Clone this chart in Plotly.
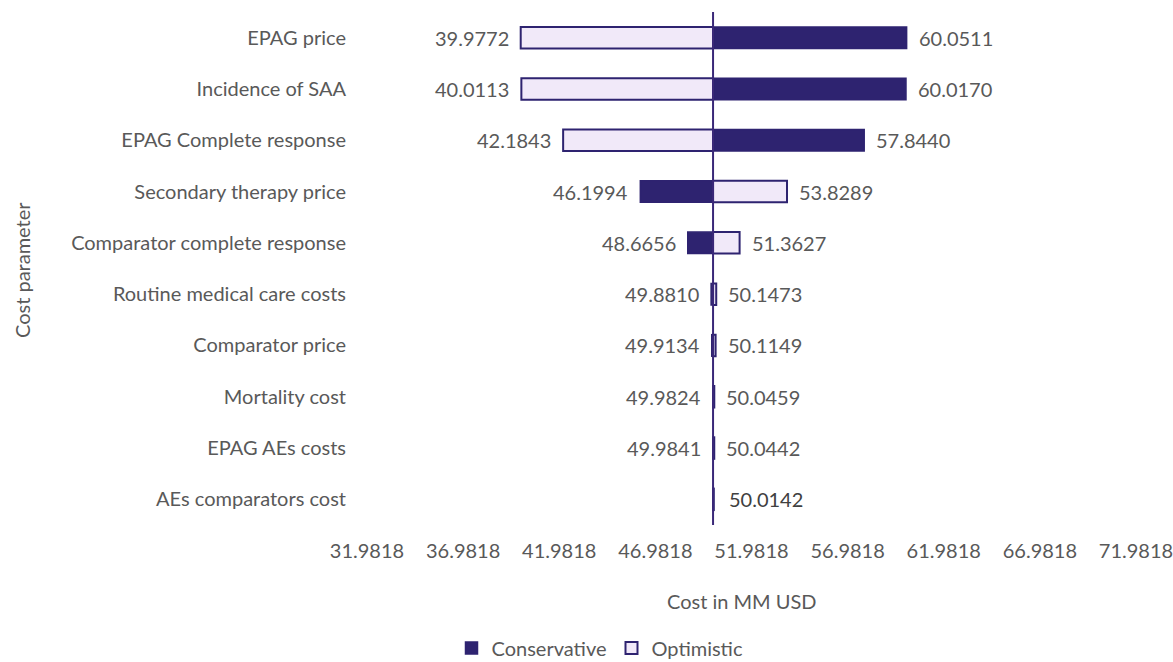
import plotly.graph_objects as go

categories = ["EPAG price", "Incidence of SAA", "EPAG Complete response",
              "Secondary therapy price", "Comparator complete response",
              "Routine medical care costs", "Comparator price", "Mortality cost",
              "EPAG AEs costs", "AEs comparators cost"]
conservative = [60.0511, 60.0170, 57.8440, 46.1994, 48.6656, 49.8810, 49.9134, 49.9824, 49.9841, 50.0142]
optimistic = [39.9772, 40.0113, 42.1843, 53.8289, 51.3627, 50.1473, 50.1149, 50.0459, 50.0442, 50.0142]
axis_cross = 49.9818
tick_vals = [31.9818, 36.9818, 41.9818, 46.9818, 51.9818, 56.9818, 61.9818, 66.9818, 71.9818]

DARK = "#2E2370"
LIGHT = "#F1E9F9"
TXT = "#595959"
FONT = "Lato"
FS = 20

L, R, T, B = 367, 1136, 12, 525
W, H = 1173, 662

fig = go.Figure()
fig.add_trace(go.Bar(
    y=categories, x=[c - axis_cross for c in conservative], base=axis_cross,
    orientation="h", name="Conservative", width=0.42,
    marker=dict(color=DARK, line=dict(color=DARK, width=1.5)),
))
fig.add_trace(go.Bar(
    y=categories, x=[o - axis_cross for o in optimistic], base=axis_cross,
    orientation="h", name="Optimistic", width=0.42,
    marker=dict(color=LIGHT, line=dict(color=DARK, width=2)),
))

annotations = []
for cat, c, o in zip(categories, conservative, optimistic):
    if abs(c - o) < 1e-9:
        annotations.append(dict(x=c, y=cat, xref="x", yref="y", text=f"{c:.4f}",
                                xanchor="left", xshift=13, showarrow=False,
                                font=dict(family=FONT, size=FS, color="#404040")))
        continue
    lo, hi = min(c, o), max(c, o)
    annotations.append(dict(x=lo, y=cat, xref="x", yref="y", text=f"{lo:.4f}",
                            xanchor="right", xshift=-10, showarrow=False,
                            font=dict(family=FONT, size=FS, color=TXT)))
    annotations.append(dict(x=hi, y=cat, xref="x", yref="y", text=f"{hi:.4f}",
                            xanchor="left", xshift=10, showarrow=False,
                            font=dict(family=FONT, size=FS, color=TXT)))

annotations.append(dict(text="Cost in MM USD", xref="paper", yref="paper",
                        x=(742 - L) / (R - L), y=(B - 601) / (B - T), xanchor="center",
                        yanchor="middle", showarrow=False,
                        font=dict(family=FONT, size=FS, color=TXT)))
annotations.append(dict(text="Cost parameter", xref="paper", yref="paper",
                        x=(22 - L) / (R - L), y=(B - 270) / (B - T), xanchor="center",
                        yanchor="middle", textangle=-90, showarrow=False,
                        font=dict(family=FONT, size=FS, color=TXT)))

fig.update_layout(
    width=W, height=H,
    margin=dict(l=L, r=W - R, t=T, b=H - B, autoexpand=False),
    paper_bgcolor="white", plot_bgcolor="white",
    barmode="overlay",
    font=dict(family=FONT, size=FS, color=TXT),
    showlegend=True,
    legend=dict(orientation="h", x=(600 - L) / (R - L), xanchor="center",
                y=(B - 648) / (B - T), yanchor="middle",
                font=dict(family=FONT, size=FS, color=TXT), traceorder="normal",
                itemwidth=30, tracegroupgap=0),
    xaxis=dict(range=[tick_vals[0], tick_vals[-1]], tickvals=tick_vals,
               ticktext=[f"{t:.4f}" for t in tick_vals], showgrid=False,
               zeroline=False, showline=False, ticks="",
               ticklabelstandoff=12, ticklabeloverflow="allow",
               tickfont=dict(family=FONT, size=FS, color=TXT)),
    yaxis=dict(categoryorder="array", categoryarray=categories[::-1],
               range=[-0.5, 9.5],
               showgrid=False, zeroline=False, showline=False, ticks="",
               ticklabelstandoff=20,
               tickfont=dict(family=FONT, size=FS, color=TXT)),
    annotations=annotations,
    shapes=[dict(type="line", xref="x", yref="paper", x0=axis_cross, x1=axis_cross,
                 y0=0, y1=1, line=dict(color="#3A2878", width=2), layer="above")],
)

fig.write_html("out.html", config={"displayModeBar": False},
               post_script="document.body.style.margin='0';document.body.style.overflow='hidden';")
